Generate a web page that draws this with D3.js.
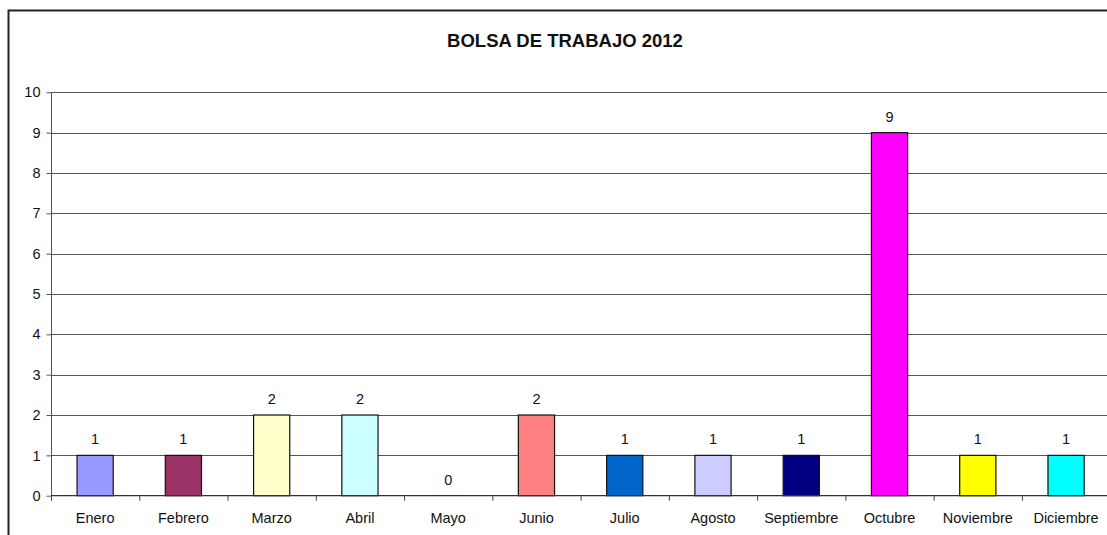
<!DOCTYPE html>
<html><head><meta charset="utf-8">
<script src="https://cdn.jsdelivr.net/npm/d3@7"></script>
<style>
html,body{margin:0;padding:0;background:#fff;}
svg{display:block;font-family:Arial,"Liberation Sans",sans-serif;}
</style></head>
<body><svg id="c" width="1107" height="535"></svg>
<script>
const title = "BOLSA DE TRABAJO 2012";
const months = ["Enero","Febrero","Marzo","Abril","Mayo","Junio","Julio","Agosto","Septiembre","Octubre","Noviembre","Diciembre"];
const values = [1,1,2,2,0,2,1,1,1,9,1,1];
const colors = ["#9999FF","#993366","#FFFFCC","#CCFFFF","#660066","#FF8080","#0066CC","#CCCCFF","#000080","#FF00FF","#FFFF00","#00FFFF"];
const yTicks = [0,1,2,3,4,5,6,7,8,9,10];

const svg = d3.select("#c");
const L = 51, R = 1110.2, T = 92.3, B = 495.7;
const x = d3.scaleBand().domain(months).range([L, R]).padding(0);
const y = d3.scaleLinear().domain([0, 10]).range([B, T]);
const barW = x.bandwidth() * 0.41;

// outer border (chart area, cropped on right/bottom)
svg.append("path").attr("d", "M8.5,540 V10.5 H1110")
  .attr("fill", "none").attr("stroke", "#222").attr("stroke-width", 2);

// title
svg.append("text").attr("x", 565).attr("y", 47).attr("text-anchor", "middle")
  .attr("font-size", 18.5).attr("font-weight", "bold").attr("fill", "#111").text(title);

// gridlines
svg.append("g").selectAll("line").data(yTicks.filter(d => d > 0)).join("line")
  .attr("x1", L).attr("x2", 1107).attr("y1", d => Math.round(y(d)) + 0.5).attr("y2", d => Math.round(y(d)) + 0.5)
  .attr("stroke", "#555").attr("stroke-width", 1);

// y axis
const ya = svg.append("g").attr("transform", `translate(${L + 0.5},0)`)
  .call(d3.axisLeft(y).tickValues(yTicks).tickSize(5).tickPadding(6).tickFormat(d3.format("d")));
ya.select(".domain").remove();
ya.selectAll(".tick line").attr("stroke", "#555");
ya.selectAll(".tick text").attr("font-size", 14.5).attr("fill", "#111").attr("font-family", "Arial, 'Liberation Sans', sans-serif");
svg.append("line").attr("x1", L + 0.5).attr("x2", L + 0.5).attr("y1", T).attr("y2", B + 5)
  .attr("stroke", "#555");

// bars
svg.append("g").selectAll("rect").data(months).join("rect")
  .attr("x", (d) => x(d) + (x.bandwidth() - barW) / 2)
  .attr("width", barW)
  .attr("y", (d, i) => y(values[i]))
  .attr("height", (d, i) => B - y(values[i]))
  .attr("fill", (d, i) => colors[i])
  .attr("stroke", "#111").attr("stroke-width", 1.2);

// x axis
svg.append("line").attr("x1", L).attr("x2", 1107).attr("y1", B).attr("y2", B)
  .attr("stroke", "#333").attr("stroke-width", 1.2);
svg.append("g").selectAll("line").data(d3.range(months.length + 1)).join("line")
  .attr("x1", i => L + i * x.bandwidth() + 0.5).attr("x2", i => L + i * x.bandwidth() + 0.5)
  .attr("y1", B).attr("y2", B + 5).attr("stroke", "#444");
svg.append("g").selectAll("text").data(months).join("text")
  .attr("x", d => x(d) + x.bandwidth() / 2).attr("y", 523)
  .attr("text-anchor", "middle").attr("font-size", 14.5).attr("fill", "#111").text(d => d);

// value labels
svg.append("g").selectAll("text").data(months).join("text")
  .attr("x", d => x(d) + x.bandwidth() / 2).attr("y", (d, i) => y(values[i]) - 11)
  .attr("text-anchor", "middle").attr("font-size", 14.5).attr("fill", "#111").text((d, i) => values[i]);
</script></body></html>
